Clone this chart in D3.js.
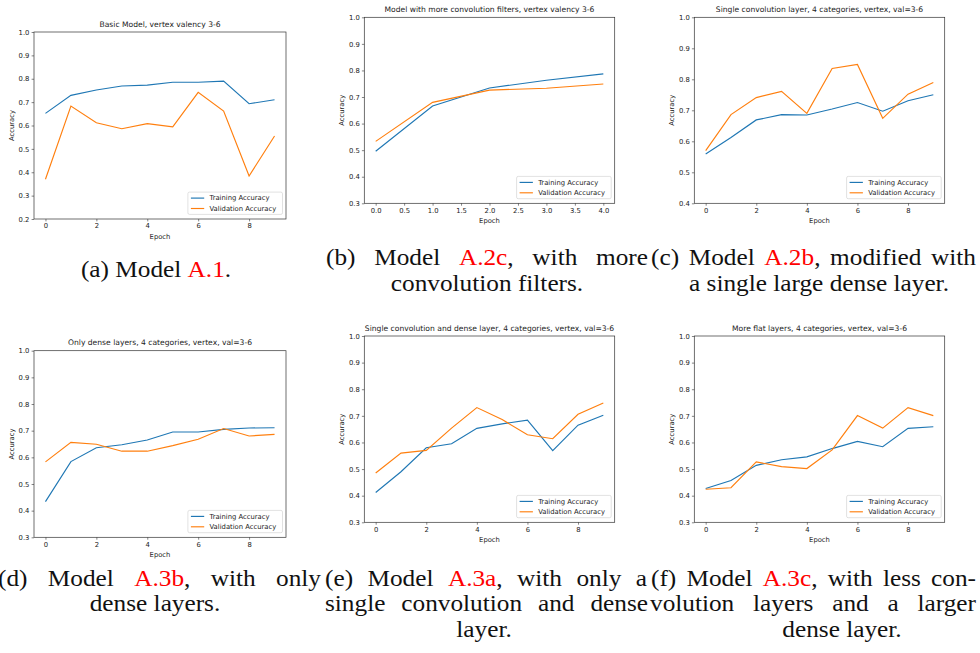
<!DOCTYPE html>
<html>
<head>
<meta charset="utf-8">
<script src="https://cdn.jsdelivr.net/npm/d3@7"></script>
<style>
  body { margin: 0; background: #fff; }
  svg { display: block; }
</style>
</head>
<body>
<svg id="fig" width="980" height="653"></svg>
<script>
// ---- data ----
const epochs10 = [0, 1, 2, 3, 4, 5, 6, 7, 8, 9];
const epochs5 = [0, 1, 2, 3, 4];

const trainA1 = [0.652, 0.729, 0.752, 0.769, 0.773, 0.785, 0.785, 0.790, 0.693, 0.710];
const valA1 = [0.370, 0.683, 0.612, 0.586, 0.608, 0.594, 0.742, 0.662, 0.384, 0.555];

const trainA2c = [0.496, 0.666, 0.734, 0.763, 0.787];
const valA2c = [0.533, 0.680, 0.726, 0.733, 0.749];

const trainA2b = [0.559, 0.612, 0.669, 0.686, 0.685, 0.704, 0.725, 0.697, 0.731, 0.750];
const valA2b = [0.570, 0.686, 0.741, 0.761, 0.690, 0.835, 0.848, 0.674, 0.752, 0.790];

const trainA3b = [0.434, 0.584, 0.636, 0.647, 0.665, 0.695, 0.695, 0.705, 0.710, 0.711];
const valA3b = [0.583, 0.656, 0.649, 0.623, 0.623, 0.644, 0.668, 0.708, 0.680, 0.686];

const trainA3a = [0.412, 0.490, 0.580, 0.595, 0.653, 0.670, 0.684, 0.569, 0.665, 0.702];
const valA3a = [0.485, 0.560, 0.570, 0.654, 0.731, 0.686, 0.629, 0.614, 0.706, 0.748];

const trainA3c = [0.427, 0.457, 0.514, 0.535, 0.546, 0.577, 0.604, 0.584, 0.653, 0.659];
const valA3c = [0.424, 0.430, 0.527, 0.509, 0.502, 0.572, 0.701, 0.654, 0.731, 0.701];

const titles = [
  "Basic Model, vertex valency 3-6",
  "Model with more convolution filters, vertex valency 3-6",
  "Single convolution layer, 4 categories, vertex, val=3-6",
  "Only dense layers, 4 categories, vertex, val=3-6",
  "Single convolution and dense layer, 4 categories, vertex, val=3-6",
  "More flat layers, 4 categories, vertex, val=3-6"
];
const yMins = [0.2, 0.3, 0.4, 0.3, 0.3, 0.3];
const xTicks10 = [0, 2, 4, 6, 8];
const xTicks5 = [0, 0.5, 1, 1.5, 2, 2.5, 3, 3.5, 4];
const legendLabels = ["Training Accuracy", "Validation Accuracy"];

// caption lines; [..] marks the red reference
const captionLines = [
  ["(a) Model [A.1]."],
  ["(b) Model [A.2c], with more", "convolution filters."],
  ["(c) Model [A.2b], modified with", "a single large dense layer."],
  ["(d) Model [A.3b], with only", "dense layers."],
  ["(e) Model [A.3a], with only a", "single convolution and dense", "layer."],
  ["(f) Model [A.3c], with less con-", "volution layers and a larger", "dense layer."]
];

// ---- layout ----
const colors = { train: "#1f77b4", val: "#ff7f0e" };
const sans = "DejaVu Sans, sans-serif";
const serif = "Liberation Serif, serif";
const capSize = 23, capStretch = 1.1; // wide serif look of the original captions

const panels = [
  { box: [34, 32, 286, 219], epochs: epochs10, train: trainA1, val: valA1, ticks: xTicks10, fmt: d3.format("d") },
  { box: [364.3, 17.3, 614.7, 203.3], epochs: epochs5, train: trainA2c, val: valA2c, ticks: xTicks5, fmt: d3.format(".1f") },
  { box: [694.3, 17.3, 944.7, 203.3], epochs: epochs10, train: trainA2b, val: valA2b, ticks: xTicks10, fmt: d3.format("d") },
  { box: [34, 350.7, 286, 537.3], epochs: epochs10, train: trainA3b, val: valA3b, ticks: xTicks10, fmt: d3.format("d") },
  { box: [364.3, 336, 614.7, 522.3], epochs: epochs10, train: trainA3a, val: valA3a, ticks: xTicks10, fmt: d3.format("d") },
  { box: [694.3, 336, 944.7, 522.3], epochs: epochs10, train: trainA3c, val: valA3c, ticks: xTicks10, fmt: d3.format("d") }
];

// caption placement: justified lines get [x0, x1], others a centre
const captionPlaces = [
  [{ c: 156, y: 277 }],
  [{ x0: 326, x1: 648, y: 265 }, { c: 487, y: 291 }],
  [{ x0: 651, x1: 976, y: 265 }, { c: 819, y: 291 }],
  [{ x0: -2, x1: 321, y: 586 }, { c: 155, y: 611 }],
  [{ x0: 325, x1: 647, y: 586 }, { x0: 325, x1: 648, y: 611 }, { c: 484, y: 637 }],
  [{ x0: 651, x1: 976, y: 586 }, { x0: 650, x1: 976, y: 611 }, { c: 842, y: 637 }]
];

const svg = d3.select("#fig");

function drawPanel(p, i) {
  const [l, t, r, b] = p.box;
  const g = svg.append("g");
  const ext = d3.extent(p.epochs);
  const pad = (ext[1] - ext[0]) * 0.05;
  const x = d3.scaleLinear().domain([ext[0] - pad, ext[1] + pad]).range([l, r]);
  const y = d3.scaleLinear().domain([yMins[i], 1]).range([b, t]);
  const yTicks = d3.range(Math.round(yMins[i] * 10), 11).map((v) => v / 10);

  const xAxis = g.append("g").attr("transform", `translate(0,${b})`)
    .call(d3.axisBottom(x).tickValues(p.ticks).tickFormat(p.fmt).tickSize(2.4).tickPadding(2.2));
  const yAxis = g.append("g").attr("transform", `translate(${l},0)`)
    .call(d3.axisLeft(y).tickValues(yTicks).tickFormat(d3.format(".1f")).tickSize(2.4).tickPadding(2.2));
  for (const ax of [xAxis, yAxis]) {
    ax.select(".domain").remove();
    ax.selectAll("line").attr("stroke", "#333").attr("stroke-width", 0.6);
    ax.selectAll("text").attr("fill", "#222").style("font-family", sans).style("font-size", "6.8px");
  }

  const line = d3.line().x((d, k) => x(p.epochs[k])).y((d) => y(d));
  g.append("path").datum(p.train).attr("d", line)
    .attr("fill", "none").attr("stroke", colors.train).attr("stroke-width", 1.15);
  g.append("path").datum(p.val).attr("d", line)
    .attr("fill", "none").attr("stroke", colors.val).attr("stroke-width", 1.15);

  g.append("rect").attr("x", l).attr("y", t).attr("width", r - l).attr("height", b - t)
    .attr("fill", "none").attr("stroke", "#333").attr("stroke-width", 0.7);

  g.append("text").attr("x", (l + r) / 2).attr("y", t - 5.5).attr("text-anchor", "middle")
    .style("font-family", sans).style("font-size", "7.6px").attr("fill", "#222").text(titles[i]);
  g.append("text").attr("x", (l + r) / 2).attr("y", b + 19.8).attr("text-anchor", "middle")
    .style("font-family", sans).style("font-size", "6.8px").attr("fill", "#222").text("Epoch");
  g.append("text").attr("transform", `translate(${l - 20},${(t + b) / 2}) rotate(-90)`)
    .attr("text-anchor", "middle")
    .style("font-family", sans).style("font-size", "6.8px").attr("fill", "#222").text("Accuracy");

  // legend, lower right
  const lw = 94.6, lh = 22.3;
  const lx = r - 3.5 - lw, ly = b - 4.6 - lh;
  const leg = g.append("g");
  leg.append("rect").attr("x", lx).attr("y", ly).attr("width", lw).attr("height", lh)
    .attr("rx", 1.6).attr("fill", "#fff").attr("fill-opacity", 0.8)
    .attr("stroke", "#ccc").attr("stroke-width", 0.6);
  [colors.train, colors.val].forEach((c, k) => {
    const cy = ly + 6 + k * 10.4;
    leg.append("line").attr("x1", lx + 3).attr("x2", lx + 16.3).attr("y1", cy).attr("y2", cy)
      .attr("stroke", c).attr("stroke-width", 1.15);
    leg.append("text").attr("x", lx + 21.6).attr("y", cy).attr("dy", "0.35em")
      .style("font-family", sans).style("font-size", "6.8px").attr("fill", "#222").text(legendLabels[k]);
  });
}

panels.forEach(drawPanel);

// ---- captions ----
function addWord(word) {
  const t = svg.append("text").style("font-family", serif).style("font-size", capSize + "px").attr("fill", "#111");
  word.split(/(\[[^\]]*\])/).filter((s) => s.length).forEach((s) => {
    const red = s.startsWith("[");
    t.append("tspan").attr("fill", red ? "#ff0000" : null).text(red ? s.slice(1, -1) : s);
  });
  return t;
}

function placeWord(t, x, y) {
  t.attr("transform", `translate(${x},${y}) scale(${capStretch},1)`);
}

captionLines.forEach((lines, i) => {
  lines.forEach((str, j) => {
    const place = captionPlaces[i][j];
    if (place.x0 !== undefined) {
      const words = str.split(" ").map(addWord);
      const widths = words.map((w) => w.node().getComputedTextLength() * capStretch);
      const gap = Math.max(3, (place.x1 - place.x0 - d3.sum(widths)) / (words.length - 1));
      let cx = place.x0;
      words.forEach((w, k) => {
        placeWord(w, cx, place.y);
        cx += widths[k] + gap;
      });
    } else {
      const w = addWord(str).attr("text-anchor", "middle");
      placeWord(w, place.c, place.y);
    }
  });
});
</script>
</body>
</html>
